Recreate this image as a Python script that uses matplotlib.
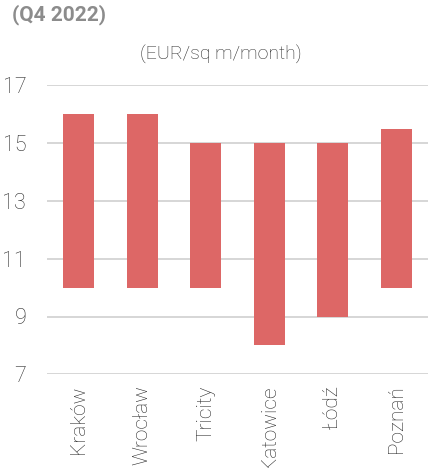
import matplotlib
matplotlib.use("Agg")
import matplotlib.pyplot as plt
import numpy as np

cities = ["Kraków", "Wrocław", "Tricity", "Katowice", "Łódź", "Poznań"]
rent_min = [10, 10, 10, 8, 9, 10]
rent_max = [16, 16, 15, 15, 15, 15.5]
yticks = [7, 9, 11, 13, 15, 17]

plt.rcParams['font.family'] = ['Roboto', 'DejaVu Sans']

fig = plt.figure(figsize=(4.28, 4.68), dpi=100)
ax = fig.add_axes([47/428, 1 - 374.3/468, 1 - 47/428, (374.3 - 85.3)/468])

x = np.arange(len(cities))
heights = [b - a for a, b in zip(rent_min, rent_max)]
ax.bar(x, heights, bottom=rent_min, width=0.49, color="#DD6766", zorder=3)

ax.set_ylim(7, 17)
ax.set_xlim(-0.5, len(cities) - 0.5)
ax.set_yticks(yticks)
ax.set_yticklabels([str(t) for t in yticks], fontsize=15.5, color="#2a2a2a", fontweight="light")
ax.set_xticks(x)
ax.set_xticklabels(cities, rotation=90, fontsize=15, color="#2a2a2a", fontweight="light", va="top")
ax.tick_params(axis="y", length=0, pad=15)
ax.tick_params(axis="x", length=0, pad=8)
ax.grid(axis="y", color="#d0d0d0", linewidth=1.2, zorder=0)
for s in ax.spines.values():
    s.set_visible(False)

fig.text(12/428, 1 - 15/468, "(Q4 2022)", fontsize=15, fontweight="bold", color="#8c8c8c", va="center", ha="left")
fig.text(221/428, 1 - 55/468, "(EUR/sq m/month)", fontsize=14, fontweight="light", color="#2a2a2a", va="center", ha="center")

fig.savefig("out.png", dpi=100)
